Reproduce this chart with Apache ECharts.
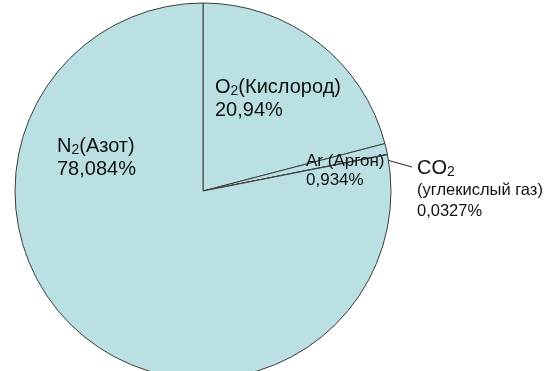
<!DOCTYPE html>
<html>
<head>
<meta charset="utf-8">
<style>
  html, body { margin: 0; padding: 0; background: #ffffff; }
  #chart { width: 550px; height: 371px; }
</style>
<script src="https://cdn.jsdelivr.net/npm/echarts@6/dist/echarts.min.js"></script>
</head>
<body>
<div id="chart"></div>
<script>
// Composition of dry air, percent by volume (clockwise from 12 o'clock)
const formulas = ['O', 'Ar', 'CO', 'N'];
const subscripts = ['2', '', '2', '2'];
const names = ['Кислород', 'Аргон', 'углекислый газ', 'Азот'];
const values = [20.94, 0.934, 0.0327, 78.084];

// Label anchors (top-left corner, px) for each slice
const labelAnchor = [[215, 76], [306, 152], [417, 157], [57, 135]];
const leaderEnd = [412, 167];

const fmtValue = v => String(v).replace('.', ',') + '%';

function labelText(i) {
  const f = formulas[i], s = subscripts[i], n = names[i], v = fmtValue(values[i]);
  if (i === 0 || i === 3) {
    return '{big|' + f + '}{bigSub|' + s + '}{big|(' + n + ')}\n{big|' + v + '}';
  }
  if (i === 1) {
    return '{ar|' + f + ' (' + n + ')}\n{ar|' + v + '}';
  }
  return '{big|' + f + '}{bigSub|' + s + '}\n{small|(' + n + ')}\n{small|' + v + '}';
}

const FONT = 'Liberation Sans, Arial, sans-serif';
const rich = {
  big: { fontSize: 20, lineHeight: 23, color: '#111', fontFamily: FONT },
  bigSub: { fontSize: 14, lineHeight: 23, color: '#111', fontFamily: FONT, verticalAlign: 'bottom', padding: [0, 0, 1, 0] },
  ar: { fontSize: 17, lineHeight: 19, color: '#111', fontFamily: FONT },
  small: { fontSize: 16.5, lineHeight: 21, color: '#111', fontFamily: FONT }
};

const seriesData = values.map((v, i) => ({
  value: v,
  name: formulas[i] + subscripts[i],
  label: {
    show: true,
    position: i === 2 ? 'outside' : 'inside',
    formatter: () => labelText(i),
    rich: rich
  },
  labelLine: i === 2
    ? { show: true, length: 10, length2: 10, lineStyle: { color: '#222', width: 1 } }
    : { show: false }
}));

const chart = echarts.init(document.getElementById('chart'), null, { renderer: 'canvas' });
chart.setOption({
  animation: false,
  backgroundColor: '#ffffff',
  series: [{
    type: 'pie',
    center: [203, 191],
    radius: 188,
    startAngle: 90,
    clockwise: true,
    avoidLabelOverlap: false,
    silent: true,
    itemStyle: { color: '#bbe0e3', borderColor: '#3c3c3c', borderWidth: 1 },
    emphasis: { disabled: true },
    data: seriesData,
    labelLayout: function (params) {
      const i = params.dataIndex;
      const out = {
        x: labelAnchor[i][0],
        y: labelAnchor[i][1],
        align: 'left',
        verticalAlign: 'top'
      };
      if (i === 2 && params.labelLinePoints) {
        // leader runs from just inside the CO2 sliver out to the label
        const p0 = params.labelLinePoints[0];
        const cx = 203, cy = 191;
        const dx = p0[0] - cx, dy = p0[1] - cy;
        const len = Math.sqrt(dx * dx + dy * dy);
        const start = [cx + dx * (len - 12) / len, cy + dy * (len - 12) / len];
        out.labelLinePoints = [
          start,
          [(start[0] + leaderEnd[0]) / 2, (start[1] + leaderEnd[1]) / 2],
          leaderEnd
        ];
      }
      return out;
    }
  }]
});
</script>
</body>
</html>
